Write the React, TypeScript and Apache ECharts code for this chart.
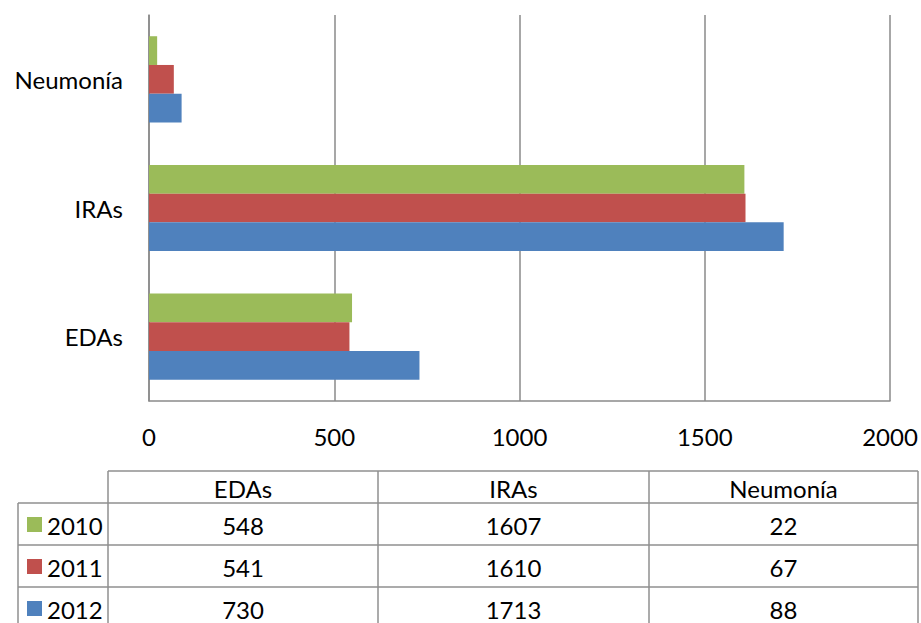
import React, { useEffect, useRef } from "react";
import * as echarts from "echarts";

const categories = ["EDAs", "IRAs", "Neumonía"];
const seriesNames = ["2010", "2011", "2012"];
const values2010 = [548, 1607, 22];
const values2011 = [541, 1610, 67];
const values2012 = [730, 1713, 88];
const colors = ["#9BBB59", "#C0504D", "#4F81BD"];
const xTicks = [0, 500, 1000, 1500, 2000];

const FONT = "Lato, 'Open Sans', sans-serif";
const FS = 24;

export default function App() {
  const ref = useRef<HTMLDivElement>(null);
  useEffect(() => {
    if (!ref.current) return;
    const chart = echarts.init(ref.current, undefined, { renderer: "svg" });
    const allValues = [values2010, values2011, values2012];

    // table geometry
    const colX = [18, 108, 378, 649, 918];
    const rowY = [471, 503, 545, 587, 629];
    const lineColor = "#8f8f8f";
    const lw = 1.5;
    const g: any[] = [];
    rowY.forEach((y, i) => {
      const x1 = i === 0 ? colX[1] : colX[0];
      g.push({ type: "line", shape: { x1, y1: y, x2: colX[4], y2: y }, style: { stroke: lineColor, lineWidth: lw } });
    });
    colX.forEach((x, i) => {
      const y1 = i === 0 ? rowY[1] : rowY[0];
      g.push({ type: "line", shape: { x1: x, y1, x2: x, y2: rowY[4] }, style: { stroke: lineColor, lineWidth: lw } });
    });
    categories.forEach((c, j) => {
      g.push({
        type: "text",
        x: (colX[j + 1] + colX[j + 2]) / 2,
        y: (rowY[0] + rowY[1]) / 2 + 1,
        style: { text: c, fill: "#000", font: `${FS}px ${FONT}`, align: "center", verticalAlign: "middle" },
      });
    });
    seriesNames.forEach((s, i) => {
      const cy = (rowY[i + 1] + rowY[i + 2]) / 2 + 1;
      g.push({ type: "rect", shape: { x: 27, y: cy - 8, width: 15, height: 15 }, style: { fill: colors[i] } });
      g.push({
        type: "text",
        x: 47,
        y: cy,
        style: { text: s, fill: "#000", font: `${FS}px ${FONT}`, align: "left", verticalAlign: "middle" },
      });
      allValues[i].forEach((v, j) => {
        g.push({
          type: "text",
          x: (colX[j + 1] + colX[j + 2]) / 2,
          y: cy,
          style: { text: String(v), fill: "#000", font: `${FS}px ${FONT}`, align: "center", verticalAlign: "middle" },
        });
      });
    });

    chart.setOption({
      animation: false,
      backgroundColor: "#fff",
      grid: { left: 149, right: 31, top: 15, bottom: 222, containLabel: false },
      xAxis: {
        type: "value",
        min: xTicks[0],
        max: xTicks[xTicks.length - 1],
        interval: 500,
        axisLine: { show: true, lineStyle: { color: "#8a8a8a", width: 1.5 } },
        axisTick: { show: false },
        splitLine: { show: true, lineStyle: { color: "#8a8a8a", width: 1.5 } },
        axisLabel: { color: "#000", fontSize: FS, fontFamily: FONT, margin: 23, formatter: (v: number) => String(v) },
      },
      yAxis: {
        type: "category",
        data: categories,
        axisLine: { show: true, lineStyle: { color: "#8a8a8a", width: 1.5 } },
        axisTick: { show: false },
        axisLabel: { color: "#000", fontSize: FS, fontFamily: FONT, margin: 26 },
      },
      series: seriesNames.map((name, i) => ({
        name,
        type: "bar",
        data: allValues[i],
        barGap: "0%",
        barCategoryGap: "33%",
        itemStyle: { color: colors[i] },
      })),
      graphic: g,
    });
    return () => chart.dispose();
  }, []);
  return <div ref={ref} style={{ position: "fixed", left: 0, top: 0, width: 921, height: 623 }} />;
}
